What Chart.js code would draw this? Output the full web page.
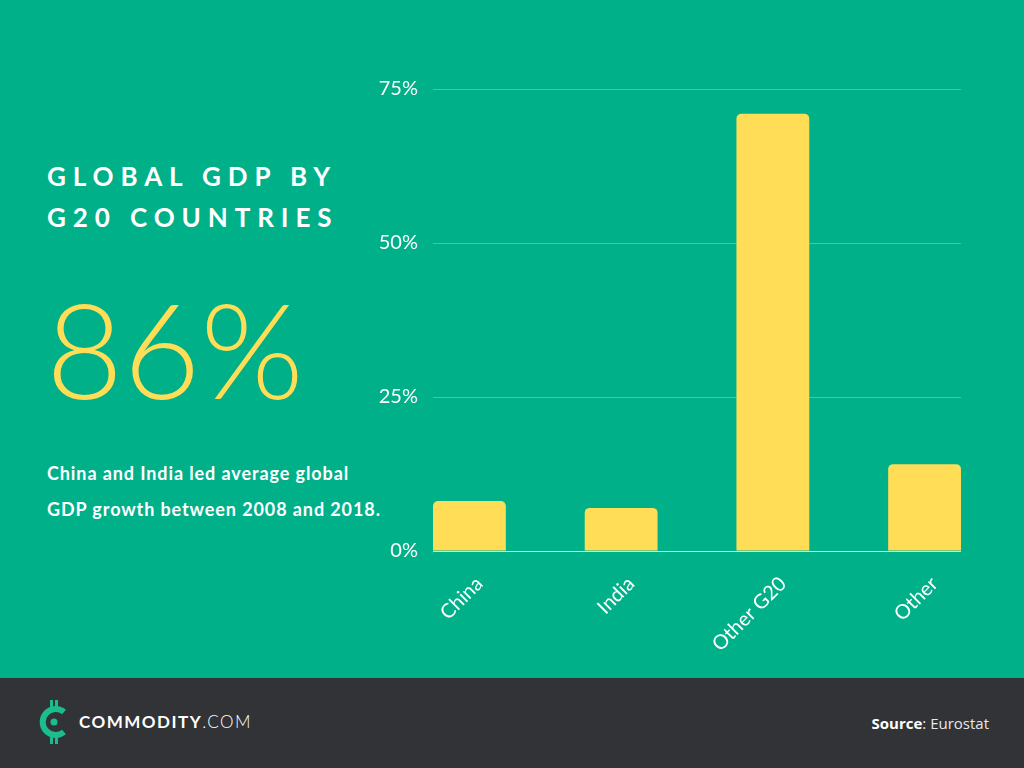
<!DOCTYPE html>
<html>
<head>
<meta charset="utf-8">
<script src="https://cdn.jsdelivr.net/npm/chart.js@4/dist/chart.umd.min.js"></script>
<style>
  html, body { margin: 0; padding: 0; }
  body {
    width: 1024px; height: 768px; overflow: hidden; position: relative;
    background: #00b089; font-family: Lato, 'Open Sans', sans-serif;
  }
  .title {
    position: absolute; left: 47px; top: 156px; margin: 0;
    color: #fff; font-weight: 700; font-size: 26px; line-height: 41px;
    letter-spacing: 6.9px;
  }
  .big {
    position: absolute; left: 46px; top: 268px;
    color: #ffdd57; font-weight: 300; font-size: 133px; line-height: 160px;
  }
  .sub {
    position: absolute; left: 47px; top: 455px;
    color: #fff; font-weight: 700; font-size: 18px; line-height: 36px;
    letter-spacing: 0.9px;
  }
  .chart-box { position: absolute; left: 340px; top: 62px; width: 640px; height: 600px; }
  .footer {
    position: absolute; left: 0; top: 678px; width: 1024px; height: 90px;
    background: #323337;
  }
  .logo { position: absolute; left: 38px; top: 20px; }
  .brand {
    position: absolute; left: 79px; top: 33px; color: #fff;
    font-size: 17px; letter-spacing: 1.5px;
  }
  .brand b { font-weight: 700; }
  .brand span { font-weight: 300; }
  .source {
    position: absolute; right: 35px; top: 35px; color: #e6e8ea;
    font-family: 'Open Sans', sans-serif; font-size: 15px;
  }
  .source b { color: #fff; }
</style>
</head>
<body>
<h1 class="title">GLOBAL GDP BY<br>G20 COUNTRIES</h1>
<div class="big">86%</div>
<div class="sub">China and India led average global<br>GDP growth between 2008 and 2018.</div>

<div class="chart-box"><canvas id="gdpChart"></canvas></div>

<div class="footer">
  <svg class="logo" width="34" height="48" viewBox="0 0 34 48">
    <rect x="12" y="2" width="3" height="9" fill="#1bbc8e"/>
    <rect x="17" y="2" width="3" height="9" fill="#1bbc8e"/>
    <rect x="12" y="37" width="3" height="9" fill="#1bbc8e"/>
    <rect x="17" y="37" width="3" height="9" fill="#1bbc8e"/>
    <path d="M26 14 A13 13 0 1 0 26 34" fill="none" stroke="#1bbc8e" stroke-width="6"/>
    <circle cx="16" cy="24" r="3.5" fill="#1bbc8e"/>
  </svg>
  <div class="brand"><b>COMMODITY</b><span>.COM</span></div>
  <div class="source"><b>Source</b>: Eurostat</div>
</div>

<script>
'use strict';

// ---------------------------------------------------------------------------
// Data (share of global GDP, %)
// ---------------------------------------------------------------------------

const categories = ['China', 'India', 'Other G20', 'Other'];
const gdpShare   = [8.1, 7.0, 71.0, 14.1];
const yTicks     = [0, 25, 50, 75];

const WHITE = '#ffffff';
const BAR   = '#ffdd57';

const points = categories.map((c, i) => ({ x: i, y: gdpShare[i] }));

const ctx = document.getElementById('gdpChart').getContext('2d');

new Chart(ctx, {
  type: 'bar',
  data: {
    datasets: [{
      data:            points,
      backgroundColor: BAR,
      borderRadius:    { topLeft: 5, topRight: 5 },
      borderSkipped:   'bottom',
      categoryPercentage: 1,
      barPercentage:   0.48,
    }],
  },
  options: {
    responsive: true,
    maintainAspectRatio: false,
    animation: false,
    layout: { padding: { top: 11, right: 19 } },
    plugins: { legend: { display: false }, tooltip: { enabled: false } },
    scales: {
      x: {
        type:   'linear',
        min:    -0.24,
        max:    categories.length - 1 + 0.24,
        offset: false,
        grid:   { display: false },
        border: { display: false },
        afterBuildTicks: s => { s.ticks = categories.map((_, i) => ({ value: i })); },
        afterFit: s => { s.height = 111; },
        ticks: {
          color: WHITE,
          font: { family: 'Lato', size: 20 },
          minRotation: 45,
          maxRotation: 45,
          padding: 13,
          labelOffset: 10,
          autoSkip: false,
          callback: v => categories[v] ?? '',
        },
      },
      y: {
        min: 0,
        max: 75,
        afterBuildTicks: s => { s.ticks = yTicks.map(v => ({ value: v })); },
        afterFit: s => { s.width = 93; },
        border: { display: false },
        grid: {
          drawTicks: false,
          color: c => c.tick.value === 0 ? 'rgba(255,255,255,0.75)' : 'rgba(255,255,255,0.28)',
        },
        ticks: {
          color: WHITE,
          font: { family: 'Lato', size: 20 },
          padding: 15,
          callback: v => `${v}%`,
        },
      },
    },
  },
});
</script>
</body>
</html>
